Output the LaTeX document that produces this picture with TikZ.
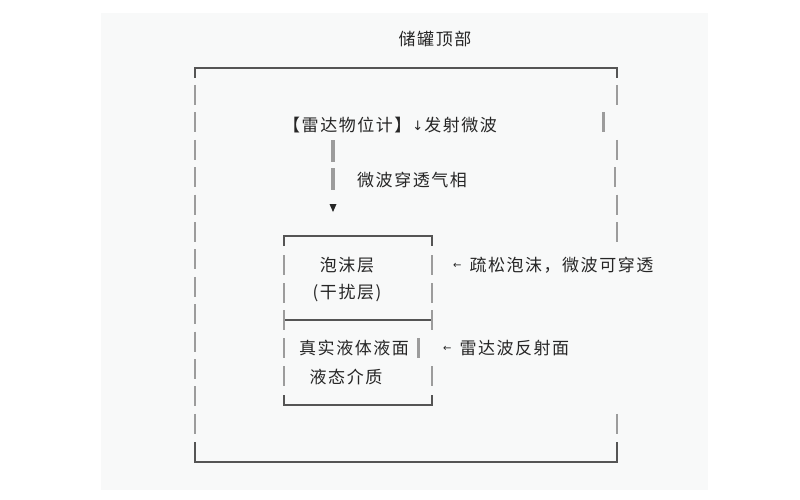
\documentclass[tikz,border=0pt]{standalone}
\usepackage{fontspec}
\usepackage{xcolor}
\usepackage{tikz}
\usetikzlibrary{calc, positioning}
\newfontfamily\cjkfont[LetterSpace=9]{Noto Sans CJK SC}
\newfontfamily\glyphfont{DejaVu Sans}
\definecolor{tankText}{HTML}{262626}
\definecolor{tankRim}{HTML}{555555}
\definecolor{tankWall}{HTML}{9C9C9C}
\definecolor{paperGray}{HTML}{F8F9F9}
\newcommand{\WallBar}[3][1.6]{
	\draw[tankWall, line width=#1pt] (#2,#3) -- ++(0,20);
}
\newcommand{\SmallArrow}[3][3pt]{\raisebox{#1}{\glyphfont\fontsize{#2}{#2}\selectfont #3}}
\def\rowh{27.4}

\begin{document}
\begin{tikzpicture}[x=1pt, y=-1pt, line cap=butt,
	tanklabel/.style={font=\cjkfont\fontsize{17}{20}\selectfont, text=tankText, inner sep=0pt},
	rim/.style={tankRim, line width=1.4pt},
	waveBar/.style={tankWall, line width=4.5pt, dash pattern=on 22pt off 6pt}]

	\fill[paperGray] (101,13) rectangle (708,490);
	\useasboundingbox (0,0) rectangle (800,500);

	% tank outline
	\coordinate (TL) at (195,68);
	\coordinate (BR) at (617,462);
	\draw[rim] ($ (TL)+(0,10) $) -- (TL) -- (TL -| BR) -- ($ (TL -| BR)+(0,10) $);
	\draw[rim] ($ (BR -| TL)+(0,-20) $) -- (BR -| TL) -- (BR) -- ($ (BR)+(0,-20) $);
	\foreach \i in {0,...,12}{
		\WallBar{195}{85+\rowh*\i}
	}
	\foreach \i/\x in {0/617, 2/617, 3/615, 4/617, 5/617, 12/617}{
		\WallBar{\x}{85+\rowh*\i}
	}
	\WallBar[3]{603}{85+\rowh}

	\node[tanklabel] (title) at (435,39) {储罐顶部};
	\node[tanklabel, anchor=west] (radar) at (283,125) {【雷达物位计】\hspace{1pt}\SmallArrow[0.5pt]{13}{↓}\hspace{1pt}发射微波};

	% microwave beam
	\coordinate (beamTop) at (333,140);
	\coordinate (beamEnd) at (333,190);
	\coordinate (tip) at (333,208);
	\draw[waveBar] (beamTop) -- (beamEnd);
	\fill[tankText] ($ (tip)+(-3.5,-4) $) -- ($ (tip)+(3.5,-4) $) -- ($ (tip)+(0,4) $) -- cycle;
	\node[tanklabel, anchor=west] (gas) at (357,180) {微波穿透气相};

	% foam and liquid box
	\coordinate (FL) at (284,236);
	\coordinate (FR) at (432,405);
	\draw[rim] ($ (FL)+(0,10) $) -- (FL) -- (FL -| FR) -- ($ (FL -| FR)+(0,10) $);
	\draw[rim] ($ (FR -| FL)+(0,-10) $) -- (FR -| FL) -- (FR) -- ($ (FR)+(0,-10) $);
	\draw[rim] (284,320) -- (432,320);
	\foreach \y in {255,283,310,338,366}{
		\WallBar{284}{\y}
	}
	\foreach \y in {255,283,310,366}{
		\WallBar{432}{\y}
	}
	\WallBar[3]{418}{338}

	\node[tanklabel] (foam) at (347,265) {泡沫层};
	\node[tanklabel] (foamSub) at (347,293) {(干扰层)};
	\node[tanklabel, anchor=west] (liquid) at (299,348) {真实液体液面};
	\node[tanklabel] (liquidSub) at (346,377) {液态介质};

	\node[tanklabel, anchor=west] (foamNote) at (453,265) {\SmallArrow{10}{←}\hspace{8pt}疏松泡沫，微波可穿透};
	\node[tanklabel, anchor=west] (echoNote) at (443,348) {\SmallArrow{10}{←}\hspace{8pt}雷达波反射面};

\end{tikzpicture}
\end{document}
